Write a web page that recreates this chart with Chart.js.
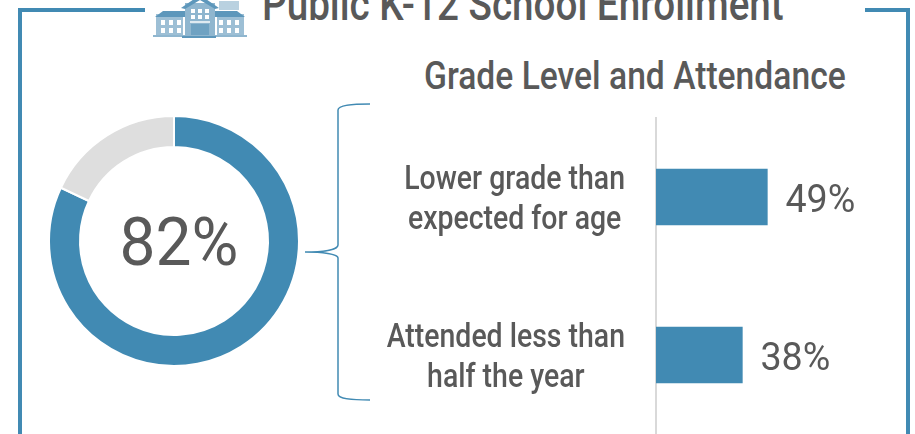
<!DOCTYPE html>
<html>
<head>
<meta charset="utf-8">
<script src="https://cdn.jsdelivr.net/npm/chart.js@4"></script>
<style>
html,body{margin:0;padding:0;background:#fff;width:915px;height:434px;overflow:hidden}
body{position:relative;font-family:Roboto,sans-serif;color:#595959}
canvas{position:absolute}
.line{position:absolute;background:#418ab3}
.txt{position:absolute;white-space:nowrap;line-height:1;transform-origin:0 0}
svg{position:absolute}
</style>
</head>
<body>
<div class="line" style="left:18px;top:8px;width:127px;height:4px"></div>
<div class="line" style="left:18px;top:8px;width:4px;height:426px"></div>
<div class="line" style="left:865px;top:8px;width:45px;height:4px"></div>
<div class="line" style="left:906px;top:8px;width:4px;height:426px"></div>

<svg style="left:153px;top:0" width="94" height="40" viewBox="0 0 94 40">
<rect x="3" y="14" width="27" height="22" fill="#9dbfd5"/>
<rect x="64" y="14" width="27" height="22" fill="#9dbfd5"/>
<polygon points="2,17 10,11 32,11 32,17" fill="#5d97bb"/>
<polygon points="62,11 84,11 92,17 62,17" fill="#5d97bb"/>
<rect x="32" y="3" width="30" height="33" fill="#8fb6cf"/>
<polygon points="28,8 47,-5 66,8 62,9 47,0 32,9" fill="#5d97bb"/>
<rect x="38" y="24" width="18" height="14" fill="#6fa2c2"/>
<rect x="37" y="21" width="20" height="2" fill="#dfeaf1"/>
<g fill="#fff">
<rect x="38" y="9" width="4" height="4"/><rect x="45" y="9" width="4" height="4"/><rect x="52" y="9" width="4" height="4"/>
<rect x="38" y="15" width="4" height="4"/><rect x="45" y="15" width="4" height="4"/><rect x="52" y="15" width="4" height="4"/>
<rect x="8" y="20" width="4" height="5"/><rect x="16" y="20" width="4" height="5"/><rect x="24" y="20" width="4" height="5"/>
<rect x="8" y="28" width="4" height="5"/><rect x="16" y="28" width="4" height="5"/><rect x="24" y="28" width="4" height="5"/>
<rect x="66" y="20" width="4" height="5"/><rect x="74" y="20" width="4" height="5"/><rect x="82" y="20" width="4" height="5"/>
<rect x="66" y="28" width="4" height="5"/><rect x="74" y="28" width="4" height="5"/><rect x="82" y="28" width="4" height="5"/>
</g>
<rect x="66" y="1" width="20" height="9" fill="#b9d1e0"/>
<rect x="0" y="35" width="94" height="2" fill="#8fb6cf"/>
<rect x="29" y="36" width="34" height="2" fill="#5d97bb"/>
</svg>

<svg style="left:0;top:0" width="915" height="434">
<path d="M370 104 C352 104 338 105 338 110 L338 245 C338 250 322 252 305 252 C322 252 338 254 338 258 L338 394 C338 399 352 400 370 400" fill="none" stroke="#418ab3" stroke-width="1.5"/>
</svg>

<div class="txt" id="title" style="left:262px;top:-19px;font-size:46px;font-weight:500;transform:scaleX(.84)">Public K-12 School Enrollment</div>
<div class="txt" id="subtitle" style="left:424px;top:57px;font-size:38px;font-weight:500;transform:scaleX(.885)">Grade Level and Attendance</div>

<canvas id="ringChart" style="left:44px;top:111px"></canvas>
<canvas id="gradeChart" style="left:380px;top:0"></canvas>

<script>
const ringLabels = ['Enrolled','Other'];
const ringValues = [82,18];
const ringText = '82%';

const gradeLabels = [['Lower grade than','expected for age'],['Attended less than','half the year']];
const gradeValues = [49,38];

const blue = '#418ab3';
const grey = '#595959';

// text squeezed sideways, the original face is a condensed one
function squeezed(c,text,x,y,font,sx){
  c.save();
  c.font = font;
  c.textAlign = 'center';
  c.textBaseline = 'middle';
  c.translate(x,y);
  c.scale(sx,1);
  c.fillText(text,0,0);
  c.restore();
}

const ringText_plugin = {
  id:'ringText',
  afterDraw(chart){
    const c = chart.ctx, m = chart.getDatasetMeta(0).data[0];
    c.save();
    c.fillStyle = grey;
    squeezed(c,ringText,m.x+5,m.y+7,"400 66px Roboto,sans-serif",.97);
    c.restore();
  }
};

const gradeText_plugin = {
  id:'gradeText',
  afterDraw(chart){
    const c = chart.ctx, yScale = chart.scales.y, xScale = chart.scales.x;
    const font = "500 33px Roboto,sans-serif", sx = .862;
    c.save();
    c.fillStyle = grey;
    gradeLabels.forEach((lines,i)=>{
      const y = yScale.getPixelForTick(i);
      c.font = font;
      const w = Math.max(...lines.map(t=>c.measureText(t).width))*sx;
      const mid = xScale.left-31-w/2;
      lines.forEach((t,j)=>squeezed(c,t,mid,y+4+(j-0.5)*40,font,sx));
      const label = gradeValues[i]+'%';
      squeezed(c,label,xScale.getPixelForValue(gradeValues[i])+53,y+5,"400 38px Roboto,sans-serif",.99);
    });
    c.restore();
  }
};

const ring = document.getElementById('ringChart');
ring.width = 260; ring.height = 260;
new Chart(ring,{
  type:'doughnut',
  data:{
    labels:ringLabels,
    datasets:[{
      data:ringValues,
      backgroundColor:[blue,'#dedede'],
      borderColor:'#fff',
      borderWidth:2
    }]
  },
  options:{
    responsive:false,
    animation:false,
    radius:125,
    cutout:97,
    plugins:{legend:{display:false},tooltip:{enabled:false}}
  },
  plugins:[ringText_plugin]
});

const grade = document.getElementById('gradeChart');
grade.width = 535; grade.height = 434;
new Chart(grade,{
  type:'bar',
  data:{
    labels:gradeLabels,
    datasets:[{
      data:gradeValues,
      backgroundColor:blue,
      barThickness:56
    }]
  },
  options:{
    indexAxis:'y',
    responsive:false,
    animation:false,
    layout:{padding:{left:268,top:118,right:0,bottom:0}},
    plugins:{legend:{display:false},tooltip:{enabled:false}},
    scales:{
      x:{display:false,min:0,max:114},
      y:{
        ticks:{display:false},
        grid:{display:false},
        border:{color:'#d9d9d9',width:2}
      }
    }
  },
  plugins:[gradeText_plugin]
});
</script>
</body>
</html>
